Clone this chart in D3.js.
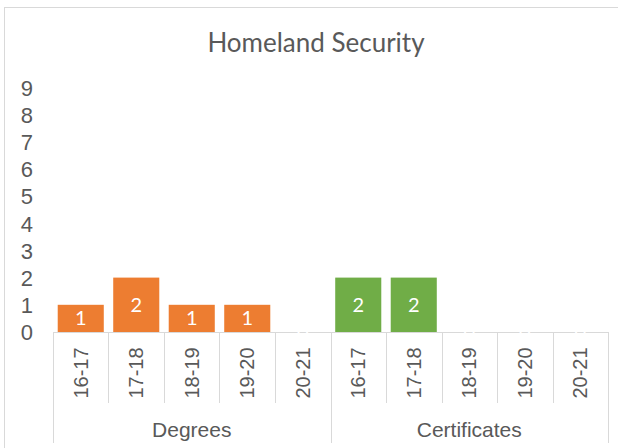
<!DOCTYPE html>
<html>
<head>
<meta charset="utf-8">
<script src="https://cdn.jsdelivr.net/npm/d3@7"></script>
<style>
  body { margin: 0; background: #fff; }
  svg { display: block; }
  .ax { font-family: Arial, "Liberation Sans", sans-serif; fill: #595959; }
</style>
</head>
<body>
<svg width="618" height="448"></svg>
<script>
// chart data
var title = "Homeland Security";
var groups = ["Degrees", "Certificates"];
var years = ["16-17", "17-18", "18-19", "19-20", "20-21"];
var degrees = [1, 2, 1, 1, 0];
var certificates = [2, 2, 0, 0, 0];
var yTicks = [0, 1, 2, 3, 4, 5, 6, 7, 8, 9];
var colors = ["#ED7D31", "#70AD47"];

var svg = d3.select("svg"),
  width = +svg.attr("width"),
  height = +svg.attr("height");

var margin = { left: 53, right: 10, top: 60, base: 332 };

// flatten into one row per bar
var rows = [];
[degrees, certificates].forEach(function (vals, g) {
  vals.forEach(function (v, i) {
    rows.push({ key: groups[g] + " " + years[i], year: years[i], group: g, value: v });
  });
});

var x = d3.scaleBand()
  .domain(rows.map(function (d) { return d.key; }))
  .range([margin.left, width - margin.right])
  .paddingInner(0.17)
  .paddingOuter(0.085);

var y = d3.scaleLinear()
  .domain([0, 10])
  .range([margin.base, margin.top]);

var half = (x.step() - x.bandwidth()) / 2;

// chart border (runs off right and bottom)
svg.append("rect")
  .attr("x", 4.5).attr("y", 7.5)
  .attr("width", 640).attr("height", 470)
  .attr("fill", "none")
  .attr("stroke", "#D9D9D9");

// title
svg.append("text")
  .attr("x", 316).attr("y", 52)
  .attr("text-anchor", "middle")
  .attr("font-family", "Lato, 'Open Sans', sans-serif")
  .attr("font-size", 26)
  .attr("fill", "#595959")
  .text(title);

// y axis labels
var yAxis = d3.axisLeft(y).tickValues(yTicks).tickSize(0).tickPadding(0);
var gy = svg.append("g")
  .attr("transform", "translate(33,0)")
  .call(yAxis)
  .attr("font-family", null)
  .attr("font-size", null);
gy.select(".domain").remove();
gy.selectAll("text")
  .attr("class", "ax")
  .attr("fill", null)
  .style("font-size", "22px")
  .attr("dy", "0.36em");

// bars
svg.append("g").selectAll("rect")
  .data(rows.filter(function (d) { return d.value > 0; }))
  .enter().append("rect")
  .attr("x", function (d) { return x(d.key); })
  .attr("y", function (d) { return y(d.value); })
  .attr("width", x.bandwidth())
  .attr("height", function (d) { return y(0) - y(d.value); })
  .attr("fill", function (d) { return colors[d.group]; });

// category axis line
svg.append("line")
  .attr("x1", margin.left).attr("x2", width - margin.right)
  .attr("y1", y(0) + 0.5).attr("y2", y(0) + 0.5)
  .attr("stroke", "#D9D9D9");

// tick separators
var bounds = rows.map(function (d) { return x(d.key) - half; });
bounds.push(x(rows[rows.length - 1].key) + x.bandwidth() + half);
svg.append("g").selectAll("line")
  .data(bounds)
  .enter().append("line")
  .attr("x1", function (d) { return Math.round(d) + 0.5; })
  .attr("x2", function (d) { return Math.round(d) + 0.5; })
  .attr("y1", y(0))
  .attr("y2", function (d, i) { return i % years.length === 0 ? 443 : 403; })
  .attr("stroke", "#D9D9D9");

// data labels (zero labels are white on the axis line)
svg.append("g").selectAll("text")
  .data(rows)
  .enter().append("text")
  .attr("x", function (d) { return x(d.key) + x.bandwidth() / 2; })
  .attr("y", function (d) { return (y(d.value) + y(0)) / 2; })
  .attr("dy", "0.35em")
  .attr("text-anchor", "middle")
  .attr("font-family", "Lato, 'Open Sans', sans-serif")
  .attr("font-size", 20)
  .attr("fill", "#fff")
  .text(function (d) { return d.value; });

// rotated year labels
svg.append("g").selectAll("text")
  .data(rows)
  .enter().append("text")
  .attr("class", "ax")
  .attr("transform", function (d) {
    return "translate(" + (x(d.key) + x.bandwidth() / 2) + ",373) rotate(-90)";
  })
  .attr("dy", "0.35em")
  .attr("text-anchor", "middle")
  .style("font-size", "20px")
  .text(function (d) { return d.year; });

// group labels
svg.append("g").selectAll("text")
  .data(groups)
  .enter().append("text")
  .attr("class", "ax")
  .attr("x", function (g) {
    var a = x(g + " " + years[0]) - half,
      b = x(g + " " + years[years.length - 1]) + x.bandwidth() + half;
    return (a + b) / 2;
  })
  .attr("y", 437)
  .attr("text-anchor", "middle")
  .style("font-size", "21px")
  .text(function (g) { return g; });
</script>
</body>
</html>
